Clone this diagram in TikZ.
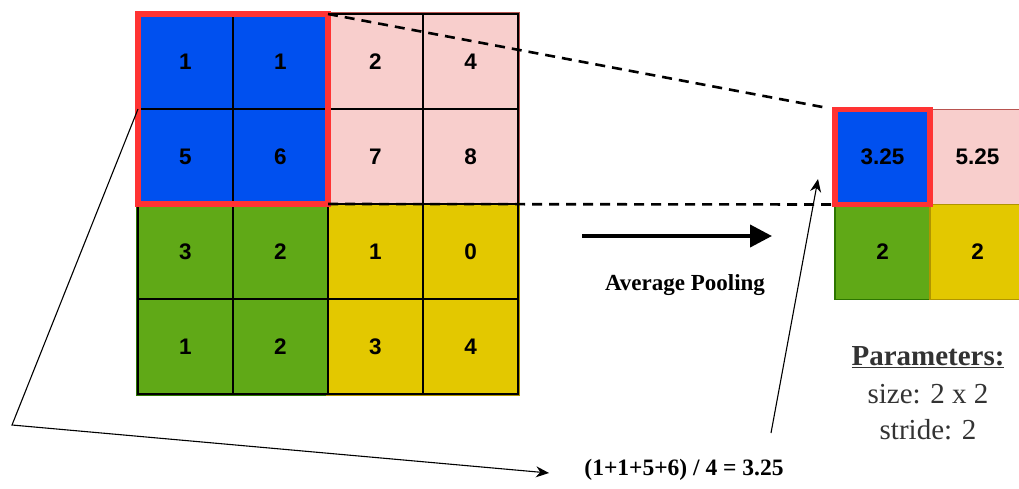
\documentclass[tikz,border=0pt]{standalone}
\usepackage{fontspec}
\setmainfont{Liberation Serif}
\newfontfamily\numfont{Liberation Sans}
\usetikzlibrary{arrows.meta,fit}
\definecolor{blueC}{HTML}{0050EF}
\definecolor{pinkC}{HTML}{F8CECC}
\definecolor{greenC}{HTML}{60A917}
\definecolor{yellowC}{HTML}{E3C800}
\definecolor{redC}{HTML}{FF3333}
\definecolor{pinkS}{HTML}{B85450}
\definecolor{greenS}{HTML}{2D7600}
\definecolor{yellowS}{HTML}{B09500}
\definecolor{blueS}{HTML}{001DBC}
\definecolor{paramC}{HTML}{333333}
\tikzset{
  cell/.style={minimum width=95pt,minimum height=95pt,inner sep=0pt,outer sep=0pt,
    font=\numfont\bfseries\fontsize{22.5}{24}\selectfont},
  gridcell/.style={cell,draw=black,line width=1.2pt},
  quad/.style={line width=3.5pt},
  selbox/.style={draw=redC,line width=5.5pt,inner sep=0pt,outer sep=0pt},
  dashline/.style={dash pattern=on 10pt off 7pt,line width=2.6pt},
  bigarrow/.style={line width=4pt,-{Triangle[length=22pt,width=22pt]}},
  thinarrow/.style={line width=1.1pt,-{Stealth[length=13pt,width=11pt]}},
  lbl/.style={inner sep=0pt}
}
\begin{document}
\begin{tikzpicture}[x=1pt,y=-1pt]
\useasboundingbox (0,0) rectangle (1019,488);
% quadrant fills / borders
\fill[blueC] (138,14) rectangle (328,204);
\draw[quad,draw=pinkS,fill=pinkC] (328,14) rectangle (518,204);
\draw[quad,draw=greenS,fill=greenC] (138,204) rectangle (328,394);
\draw[quad,draw=yellowS,fill=yellowC] (328,204) rectangle (518,394);
% left grid cells
\node[gridcell,fill=blueC] (a11) at (185.5,61.5) {1};
\node[gridcell,fill=blueC] (a12) at (280.5,61.5) {1};
\node[gridcell,fill=pinkC] (a13) at (375.5,61.5) {2};
\node[gridcell,fill=pinkC] (a14) at (470.5,61.5) {4};
\node[gridcell,fill=blueC] (a21) at (185.5,156.5) {5};
\node[gridcell,fill=blueC] (a22) at (280.5,156.5) {6};
\node[gridcell,fill=pinkC] (a23) at (375.5,156.5) {7};
\node[gridcell,fill=pinkC] (a24) at (470.5,156.5) {8};
\node[gridcell,fill=greenC] (a31) at (185.5,251.5) {3};
\node[gridcell,fill=greenC] (a32) at (280.5,251.5) {2};
\node[gridcell,fill=yellowC] (a33) at (375.5,251.5) {1};
\node[gridcell,fill=yellowC] (a34) at (470.5,251.5) {0};
\node[gridcell,fill=greenC] (a41) at (185.5,346.5) {1};
\node[gridcell,fill=greenC] (a42) at (280.5,346.5) {2};
\node[gridcell,fill=yellowC] (a43) at (375.5,346.5) {3};
\node[gridcell,fill=yellowC] (a44) at (470.5,346.5) {4};
\node[selbox,fit=(a11)(a22)] (sel) {};
% right grid
\node[cell,fill=blueC,draw=blueS,line width=1.2pt] (b11) at (882.5,157) {3.25};
\node[cell,fill=pinkC,draw=pinkS,line width=1.2pt] (b12) at (977.5,157) {5.25};
\node[cell,fill=greenC,draw=greenS,line width=1.2pt] (b21) at (882.5,252) {2};
\node[cell,fill=yellowC,draw=yellowS,line width=1.2pt] (b22) at (977.5,252) {2};
\node[selbox,fit=(b11)] (osel) {};
% dashed projection lines
\draw[dashline] (sel.north east) -- ([xshift=-10pt,yshift=2pt]osel.north west);
\draw[dashline] (sel.south east) -- (osel.south west);
% big arrow
\coordinate (arS) at (582,236);
\coordinate (arE) at (772,236);
\draw[bigarrow] (arS) -- (arE);
\node[lbl,font=\bfseries\fontsize{23}{25}\selectfont] (avg) at (685,285) {Average Pooling};
% formula
\node[lbl,font=\bfseries\fontsize{23.5}{26}\selectfont] (form) at (684,470) {(1+1+5+6) / 4 = 3.25};
\coordinate (corner) at (12,425);
\coordinate (tipA) at (549,473);
\draw[thinarrow] (a21.north west) -- (corner) -- (tipA);
\coordinate (upS) at (771,433);
\coordinate (upE) at (818,179);
\draw[thinarrow] (upS) -- (upE);
% parameters
\node[lbl,text=paramC,font=\bfseries\fontsize{29}{31}\selectfont] (par) at (928,357) {\underline{Parameters:}};
\node[lbl,text=paramC,font=\fontsize{29}{31}\selectfont] (psize) at (928,394) {size: 2 x 2};
\node[lbl,text=paramC,font=\fontsize{29}{31}\selectfont] (pstride) at (928,430) {stride: 2};
\end{tikzpicture}
\end{document}
